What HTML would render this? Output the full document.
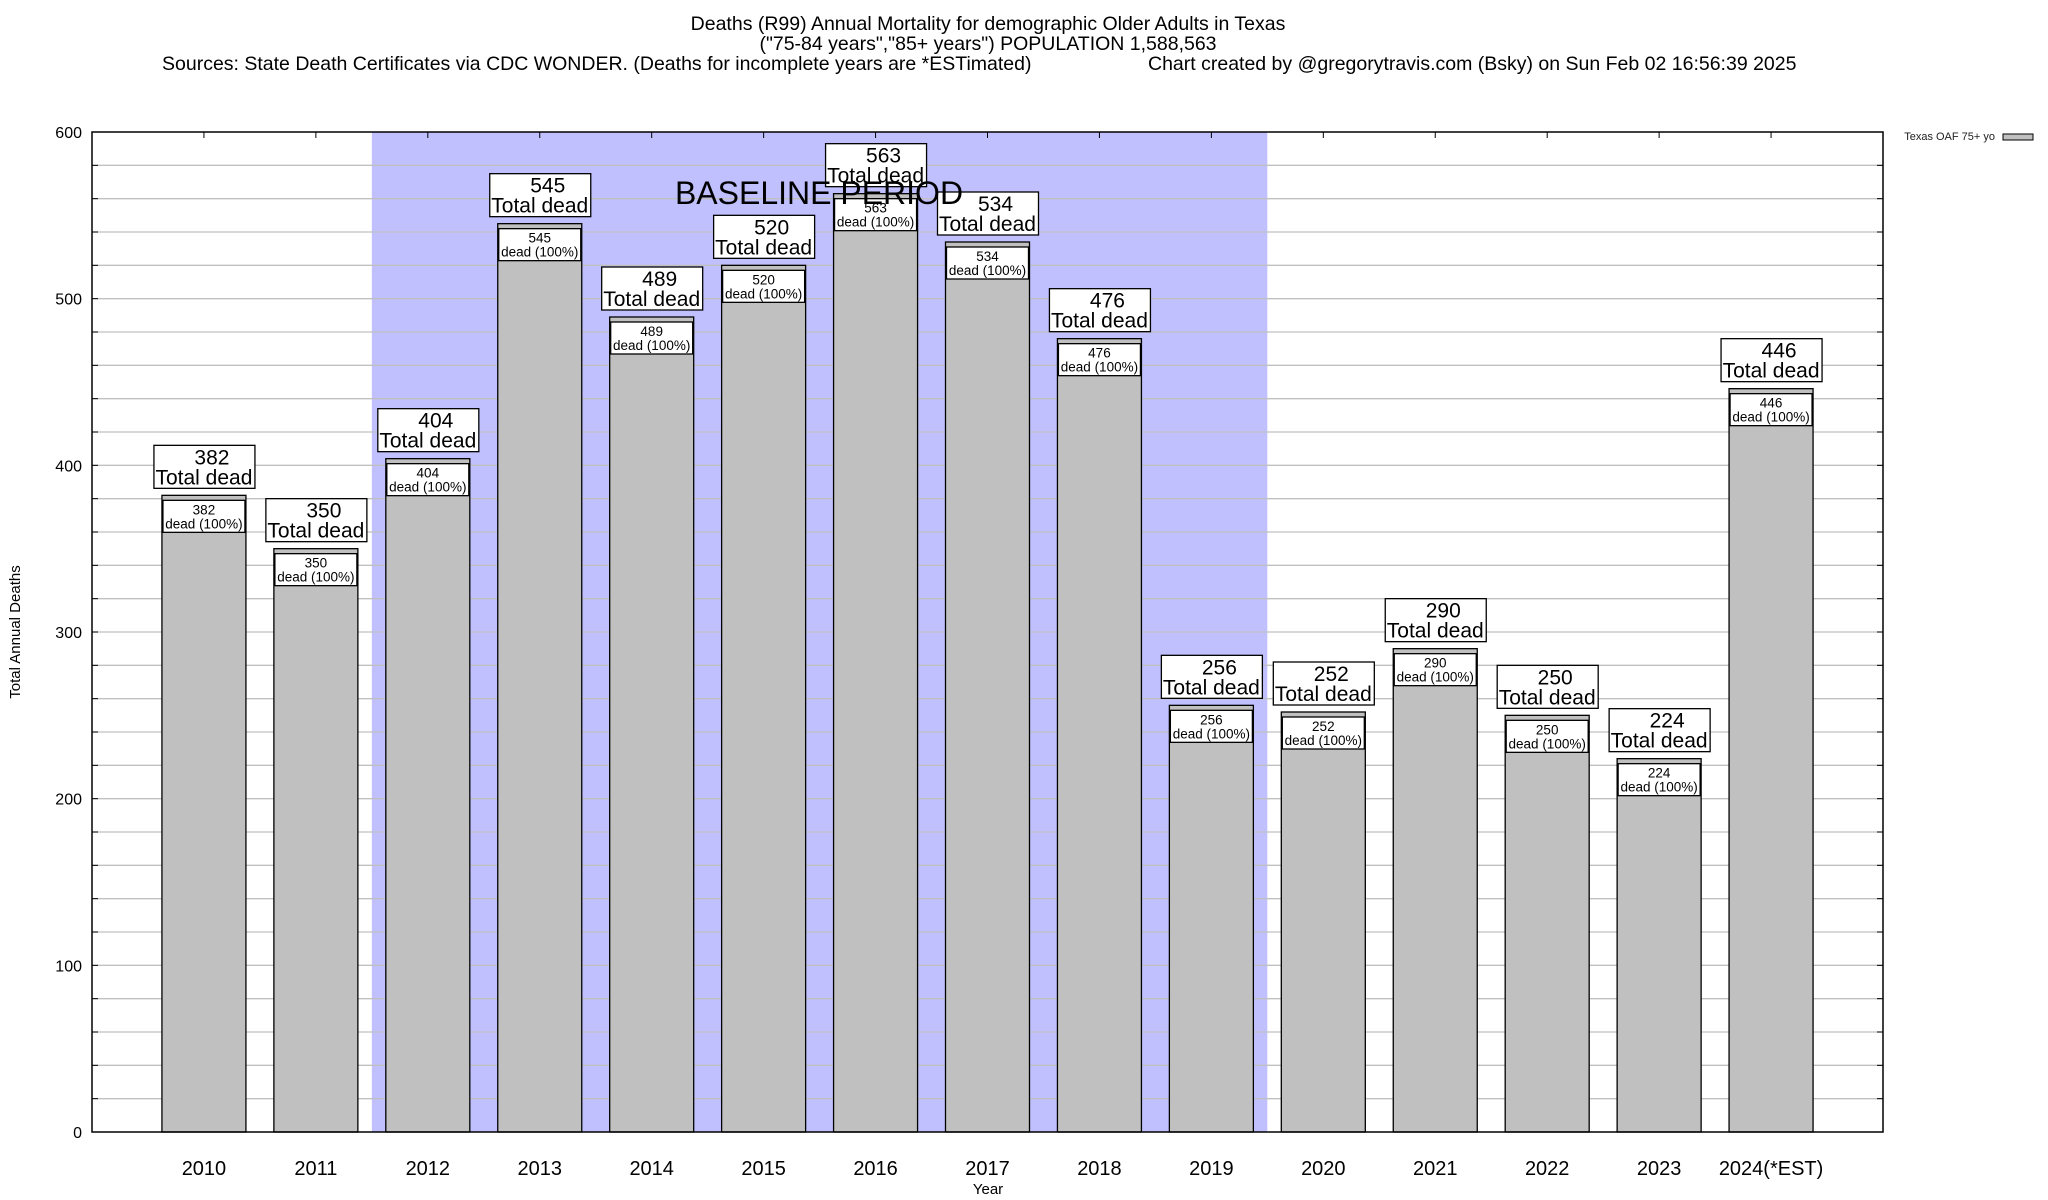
<!DOCTYPE html>
<html><head><meta charset="utf-8"><style>
html,body{margin:0;padding:0;background:#fff;}
svg{display:block;font-family:"Liberation Sans",sans-serif;}
</style></head><body>
<svg id="chart" width="2048" height="1200" viewBox="0 0 2048 1200" xmlns="http://www.w3.org/2000/svg">
<g font-size="19.5" fill="#000">
<text x="988" y="30" text-anchor="middle">Deaths (R99) Annual Mortality for demographic Older Adults in Texas</text>
<text x="988" y="50" text-anchor="middle">("75-84 years","85+ years") POPULATION 1,588,563</text>
<text x="162" y="70">Sources: State Death Certificates via CDC WONDER. (Deaths for incomplete years are *ESTimated)</text>
<text x="1148" y="70">Chart created by @gregorytravis.com (Bsky) on Sun Feb 02 16:56:39 2025</text>
</g>
<g id="plot"></g>
<text x="20" y="632" font-size="15" text-anchor="middle" transform="rotate(-90 20 632)">Total Annual Deaths</text>
<text x="988" y="1194" font-size="15" text-anchor="middle">Year</text>
<g>
<text x="1995" y="140" font-size="11" fill="#222" text-anchor="end">Texas OAF 75+ yo</text>
<rect x="2003" y="134" width="30" height="6" fill="#c0c0c0" stroke="#000" stroke-width="1"/>
</g>
</svg>
<script>
const categories = ["2010","2011","2012","2013","2014","2015","2016","2017","2018","2019","2020","2021","2022","2023","2024(*EST)"];
const deaths = [382,350,404,545,489,520,563,534,476,256,252,290,250,224,446];
const yTicks = [0,100,200,300,400,500,600];
const baselineStart = 1.5, baselineEnd = 9.5;

const NS = "http://www.w3.org/2000/svg";
const L=92,R=1883,T=132,B=1132;
const xs = i => L + (i+1)*(R-L)/16;
const ys = v => B - v*(B-T)/600;
const g = document.getElementById('plot');
function mk(tag, attrs, parent){const e=document.createElementNS(NS,tag);for(const k in attrs)e.setAttribute(k,attrs[k]);(parent||g).appendChild(e);return e;}

const sh = mk('rect',{x:xs(baselineStart),y:T,width:xs(baselineEnd)-xs(baselineStart),height:B-T,fill:'#c0c0ff'});


for(let v=20; v<600; v+=20){
  const gl=mk('line',{x1:L,x2:R,y1:ys(v),y2:ys(v),stroke:'#c0c0c0','stroke-width':1.3});
  
  
  mk('line',{x1:L,x2:L+6,y1:ys(v),y2:ys(v),stroke:'#000','stroke-width':1});
  mk('line',{x1:R-6,x2:R,y1:ys(v),y2:ys(v),stroke:'#000','stroke-width':1});
}
yTicks.forEach(v=>{
  const t=mk('text',{x:L-10,y:ys(v)+6,'font-size':16,'text-anchor':'end'});
  t.textContent=v;
  
  
});
categories.forEach((c,i)=>{
  const v=deaths[i], cx=xs(i), w=84, top=ys(v);
  const b=mk('rect',{x:cx-w/2,y:top,width:w,height:B-top,fill:'#c0c0c0',stroke:'#000','stroke-width':1.3});
  
  
  mk('line',{x1:cx,x2:cx,y1:T,y2:T+6,stroke:'#000','stroke-width':1});
  const ib=mk('rect',{x:cx-41,y:top+5,width:82,height:32,fill:'#fff',stroke:'#000','stroke-width':1.3});
  
  
  const t1=mk('text',{x:cx,y:top+19,'font-size':13.5,'text-anchor':'middle'}); t1.textContent=v;
  const t2=mk('text',{x:cx,y:top+33,'font-size':13.5,'text-anchor':'middle'}); t2.textContent='dead (100%)';
  const lab=mk('text',{x:cx,y:1175,'font-size':20,'text-anchor':'middle'}); lab.textContent=c;
  
  
});
categories.forEach((c,i)=>{
  const v=deaths[i], cx=xs(i), top=ys(v);
  const bx=mk('rect',{x:cx-50,y:top-50,width:101,height:43,fill:'#fff',stroke:'#000','stroke-width':1.3});
  
  
  const a=mk('text',{x:cx+8,y:top-31,'font-size':21,'text-anchor':'middle'}); a.textContent=v;
  const b2=mk('text',{x:cx,y:top-11,'font-size':21,'text-anchor':'middle'}); b2.textContent='Total dead';
});
const bl=mk('text',{x:819,y:204,'font-size':32,'text-anchor':'middle'});
bl.textContent='BASELINE PERIOD';


const fr=mk('rect',{x:L,y:T,width:R-L,height:B-T,fill:'none',stroke:'#000','stroke-width':1.5});


</script>
</body></html>
